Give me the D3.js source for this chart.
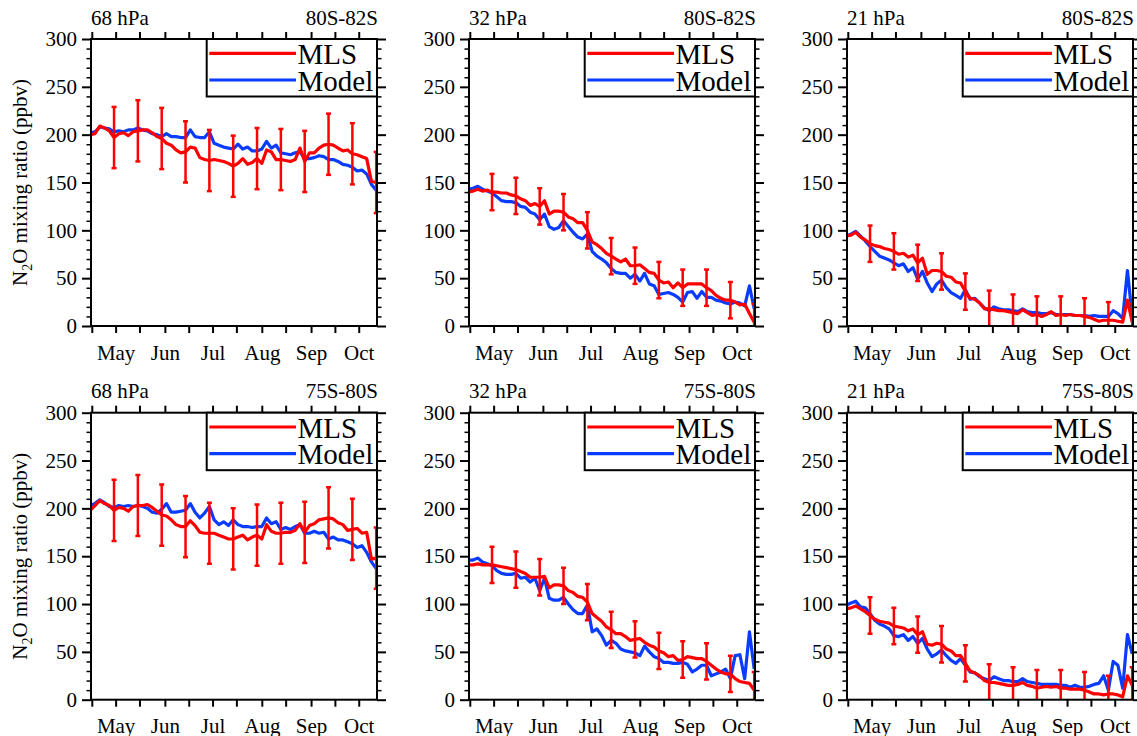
<!DOCTYPE html>
<html><head><meta charset="utf-8">
<script src="https://cdn.jsdelivr.net/npm/d3@7"></script>
<style>
body{margin:0;background:#fff}
svg{display:block}
svg text{font-family:"Liberation Serif","Times New Roman",Times,serif !important;fill:#000}
</style>
</head><body>
<svg id="chart" width="1137" height="736"></svg>
<script>
// ---- data ----
const days = [105,108,111,114,117,120,123,126,129,132,135,138,141,144,147,150,153,156,159,162,165,168,171,174,177,180,183,186,189,192,195,198,201,204,207,210,213,216,219,222,225,228,231,234,237,240,243,246,249,252,255,258,261,264,267,270,273,276,279,282,285];
const errDays = [120,135,150,165,180,195,210,225,240,255,270,285];
const tickDays = [106,121,136,152,167,182,197,213,228,244,259,274];
const monthDays = [121,152,182,213,244,274];
const monthLabels = ["May","Jun","Jul","Aug","Sep","Oct"];
const yMajor = [0,50,100,150,200,250,300];
const levels = ["68 hPa","32 hPa","21 hPa"];
const bands = ["80S-82S","75S-80S"];
const errHalf = [32,19,19];

const mls_68_80 = [200,201,209,207,204,197,201,202,199,203,204,205,205,202,198,196,191,189,184,181,182,187,186,176,174,173,174,173,172,170,167,170,175,169,171,175,170,184,182,174,174,173,172,174,186,172,181,181,186,189,190,189,186,183,184,180,179,177,175,151,150];
const mod_68_80 = [202,203,208,207,206,203,204,203,205,205,207,205,204,201,200,198,201,198,198,197,197,205,198,197,197,203,191,189,187,186,185,190,185,187,183,183,185,193,186,189,181,180,179,181,182,175,175,176,178,177,174,174,172,169,168,166,162,163,159,148,142];
const mls_32_80 = [140,141,143,141,142,140,140,139,139,137,136,133,131,126,128,125,131,117,120,120,119,114,112,108,108,100,88,85,81,76,73,70,67,70,63,63,64,60,56,55,48,45,46,40,45,40,44,44,44,44,40,37,32,29,27,27,25,22,23,13,4];
const mod_32_80 = [143,144,146,143,141,139,135,131,130,130,129,125,124,119,117,111,117,104,101,103,110,104,98,93,91,96,78,73,70,66,60,56,55,55,50,54,47,55,44,42,33,34,35,33,30,25,35,36,29,36,30,30,27,26,24,23,25,24,21,42,18];
const mls_21_80 = [94,95,98,93,90,86,84,83,81,80,78,75,76,72,74,66,71,54,58,58,57,52,51,46,45,36,29,28,24,18,18,17,16,16,15,14,13,17,14,11,12,10,12,15,11,12,11,12,11,11,10,9,7,5,6,6,6,5,4,27,4];
const mod_21_80 = [94,96,99,94,89,83,78,73,71,69,66,63,65,57,61,49,57,45,36,44,48,40,35,32,29,38,28,29,24,19,16,20,18,17,17,16,15,18,15,14,14,13,13,14,12,12,12,12,11,11,11,10,11,10,10,10,16,13,8,58,10];
const mls_68_75 = [198,203,208,205,203,198,201,200,197,202,203,203,204,201,197,193,192,188,183,181,181,187,182,175,174,174,174,172,170,168,168,170,172,167,170,172,168,183,176,174,174,175,175,177,184,175,182,184,188,189,190,189,185,183,177,178,179,174,175,147,148];
const mod_68_75 = [203,205,209,206,202,201,203,202,203,202,203,202,200,196,195,199,205,196,196,197,198,205,196,190,195,202,188,183,186,182,188,183,181,181,180,181,181,190,184,186,178,180,178,181,183,174,174,176,174,175,168,170,167,167,165,163,159,161,154,144,137];
const mls_32_75 = [141,141,142,141,141,141,140,139,138,137,136,134,132,128,128,128,129,117,120,120,119,114,112,108,107,102,90,86,82,76,73,69,69,66,62,63,64,60,57,55,51,49,45,46,41,42,45,44,43,43,40,36,32,29,27,27,22,19,18,17,10];
const mod_32_75 = [146,146,148,144,142,140,135,132,131,131,132,127,128,123,127,114,127,106,104,104,107,100,94,90,90,99,71,74,67,57,62,59,53,51,50,49,46,56,50,45,43,39,39,38,38,39,37,29,32,36,36,25,27,29,32,22,46,47,22,71,32];
const mls_21_75 = [95,96,98,95,92,88,84,82,81,80,77,76,75,72,74,68,71,58,57,59,58,53,51,46,46,38,30,28,25,20,18,18,17,16,15,15,16,18,15,14,12,13,14,13,14,12,12,11,11,11,10,8,6,6,5,6,6,5,3,25,15];
const mod_21_75 = [99,101,103,97,96,90,83,79,77,74,67,66,68,62,66,59,64,53,45,48,52,46,41,38,43,36,29,28,24,22,20,24,22,20,20,19,19,22,19,18,17,16,16,16,16,15,15,13,15,13,13,14,16,17,25,10,40,36,12,68,48];

const mlsSeries = [[mls_68_80,mls_32_80,mls_21_80],[mls_68_75,mls_32_75,mls_21_75]];
const modSeries = [[mod_68_80,mod_32_80,mod_21_80],[mod_68_75,mod_32_75,mod_21_75]];

// ---- layout ----
const colX = [91,469,847];
const rowY = [39,412.7];
const W = 286, H = 287;
const RED = "#ff0000", BLUE = "#0a3cff";
const FONT = '"Liberation Serif","Times New Roman",Times,serif';

const svg = d3.select("#chart");
const x = d3.scaleLinear().domain([105.5,285.5]).range([0,W]);
const y = d3.scaleLinear().domain([0,300]).range([H,0]);
const yMinor = d3.range(0,301,10).filter(v=>v%50!==0);

rowY.forEach((ty,r)=>{
  colX.forEach((tx,c)=>{
    const g = svg.append("g").attr("transform",`translate(${tx},${ty})`).style("font-family",FONT);
    const cid = `clip${r}${c}`;
    g.append("clipPath").attr("id",cid).append("rect").attr("width",W).attr("height",H);
    const plot = g.append("g").attr("clip-path",`url(#${cid})`);
    const mls = mlsSeries[r][c], mod = modSeries[r][c], e = errHalf[c];
    const line = d3.line().x((d,i)=>x(days[i])).y(d=>y(d));
    plot.append("path").datum(mod).attr("d",line).attr("fill","none")
      .attr("stroke",BLUE).attr("stroke-width",3.2).attr("stroke-linejoin","round");
    plot.append("path").datum(mls).attr("d",line).attr("fill","none")
      .attr("stroke",RED).attr("stroke-width",3.2).attr("stroke-linejoin","round");
    const bars = errDays.map(d=>({d, v: mls[days.indexOf(d)]}));
    const eb = plot.append("g").attr("stroke",RED).attr("stroke-width",2.5);
    bars.forEach(b=>{
      const xx = x(b.d);
      eb.append("line").attr("x1",xx).attr("x2",xx).attr("y1",y(b.v+e)).attr("y2",y(b.v-e));
      eb.append("line").attr("x1",xx-2.5).attr("x2",xx+2.5).attr("y1",y(b.v+e)).attr("y2",y(b.v+e));
      eb.append("line").attr("x1",xx-2.5).attr("x2",xx+2.5).attr("y1",y(b.v-e)).attr("y2",y(b.v-e));
    });

    // axes
    const fmtAxis = sel=>{sel.attr("font-family",FONT); sel.select(".domain").remove(); sel.selectAll("line").attr("stroke","#000").attr("stroke-width",2);};
    g.append("g").call(d3.axisLeft(y).tickValues(yMajor).tickSize(9).tickPadding(5).tickSizeOuter(0))
      .call(fmtAxis).selectAll("text").attr("font-size",21).style("font-family",FONT);
    g.append("g").call(d3.axisLeft(y).tickValues(yMinor).tickSize(4.5).tickFormat("").tickSizeOuter(0)).call(fmtAxis)
      .selectAll("line").attr("stroke-width",1.5);
    g.append("g").attr("transform",`translate(${W},0)`).call(d3.axisRight(y).tickValues(yMajor).tickSize(9).tickFormat("").tickSizeOuter(0)).call(fmtAxis);
    g.append("g").attr("transform",`translate(${W},0)`).call(d3.axisRight(y).tickValues(yMinor).tickSize(4.5).tickFormat("").tickSizeOuter(0)).call(fmtAxis)
      .selectAll("line").attr("stroke-width",1.5);
    g.append("g").call(d3.axisTop(x).tickValues(tickDays).tickSize(7).tickFormat("").tickSizeOuter(0)).call(fmtAxis);
    g.append("g").attr("transform",`translate(0,${H})`).call(d3.axisBottom(x).tickValues(tickDays).tickSize(7).tickFormat("").tickSizeOuter(0)).call(fmtAxis);
    g.append("g").attr("transform",`translate(0,${H})`)
      .call(d3.axisBottom(x).tickValues(monthDays).tickSize(0).tickPadding(18.6).tickFormat((d,i)=>monthLabels[i]))
      .call(s=>{s.attr("font-family",FONT); s.select(".domain").remove();})
      .selectAll("text").attr("font-size",21).style("font-family",FONT);

    g.append("rect").attr("width",W).attr("height",H).attr("fill","none").attr("stroke","#000").attr("stroke-width",2);

    // titles
    g.append("text").attr("x",0).attr("y",-14.5).attr("font-size",21).style("font-family",FONT).text(levels[c]);
    g.append("text").attr("x",W+1).attr("y",-14.5).attr("font-size",21).style("font-family",FONT).attr("text-anchor","end").text(bands[r]);

    // legend
    const lg = g.append("g");
    lg.append("rect").attr("x",115.7).attr("y",0).attr("width",W-115.7).attr("height",57.5)
      .attr("fill","#fff").attr("stroke","#000").attr("stroke-width",2);
    [["MLS",RED,14.3,25],["Model",BLUE,41,51.7]].forEach(([t,col,ly,ty2])=>{
      lg.append("line").attr("x1",118.3).attr("x2",205).attr("y1",ly).attr("y2",ly).attr("stroke",col).attr("stroke-width",3.2);
      lg.append("text").attr("x",206.5).attr("y",ty2).attr("font-size",29).style("font-family",FONT).text(t);
    });

    // y label
    if(c===0){
      const t = g.append("text").attr("transform",`translate(-64,${H/2}) rotate(-90)`)
        .attr("text-anchor","middle").attr("font-size",21).style("font-family",FONT);
      t.append("tspan").text("N");
      t.append("tspan").attr("font-size",14).attr("dy",5).text("2");
      t.append("tspan").attr("dy",-5).text("O mixing ratio (ppbv)");
    }
  });
});
</script>
</body></html>
